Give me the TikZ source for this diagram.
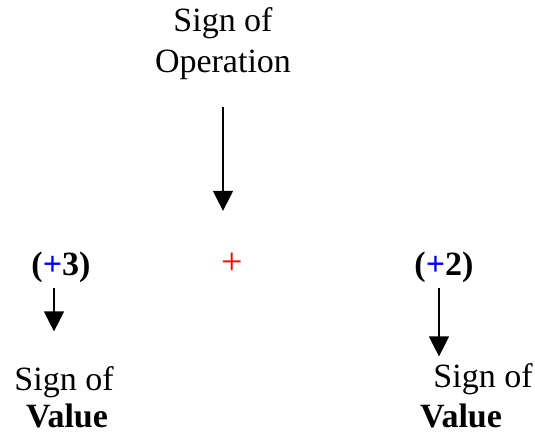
\documentclass[tikz,border=0pt]{standalone}
\usepackage{fontspec}
\setmainfont{Liberation Serif}
\usetikzlibrary{arrows.meta, positioning}
\definecolor{cblue}{HTML}{0000FF}
\definecolor{cred}{HTML}{FF0000}
\tikzset{
  every picture/.style={x=1pt, y=-1pt, line width=1.3pt},
  txt/.style={font=\fontsize{34}{41}\selectfont, inner sep=0pt, anchor=base, align=center},
  number/.style={txt, font=\fontsize{34}{41}\selectfont\bfseries},
  arrow/.style={-{Triangle[length=20pt, width=20pt]}, draw=black},
}

\begin{document}
\begin{tikzpicture}
  \useasboundingbox (0,0) rectangle (535,435);
  % operation sign
  \node[txt] (op) at (223,73) {Sign of\\Operation};
  \node[txt, text=cred, font=\fontsize{38}{41}\selectfont] (plus) at (232,275) {+};
  \draw[arrow, shorten <=26pt, shorten >=42pt] (op.south) -- (op.south |- plus.north);
  % left value
  \node[number] (v3) at (61,276) {(\textcolor{cblue}{+}3)};
  \node[txt] (s3) at (64,390) {Sign of};
  \node[number] (t3) at (67,427) {Value};
  \draw[arrow, shorten <=4pt, shorten >=34pt] ([xshift=-7pt]v3.south) -- ([xshift=-7pt]v3.south |- s3.north);
  % right value
  \node[number] (v2) at (444,276) {(\textcolor{cblue}{+}2)};
  \node[txt] (s2) at (483,387) {Sign of};
  \node[number] (t2) at (461,427) {Value};
  \draw[arrow, shorten <=4pt, shorten >=6pt] ([xshift=-5pt]v2.south) -- ([xshift=-5pt]v2.south |- s2.north);
\end{tikzpicture}
\end{document}
